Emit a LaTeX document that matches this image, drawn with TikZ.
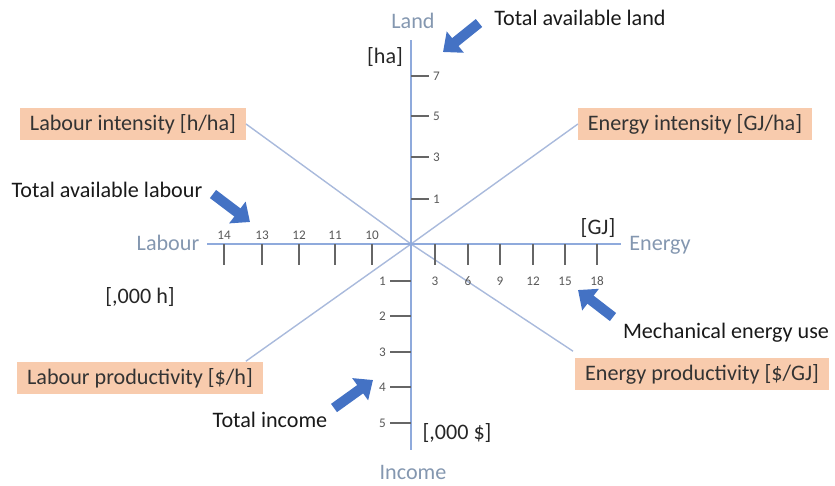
\documentclass[tikz,border=0pt]{standalone}
\usepackage{fontspec}
\setmainfont{Carlito}
\usetikzlibrary{positioning}
\usetikzlibrary{arrows.meta,calc}
\definecolor{axisblue}{HTML}{8FAADC}
\definecolor{diagblue}{HTML}{A9BADC}
\definecolor{axistext}{HTML}{8497B0}
\definecolor{boxfill}{HTML}{F8CBAD}
\definecolor{arrowblue}{HTML}{4472C4}
\definecolor{ticktext}{HTML}{595959}

\begin{document}
\begin{tikzpicture}[x=0.02cm,y=-0.02cm,
 axis/.style={axisblue,line width=1.1pt},
 diag/.style={diagblue,line width=0.8pt},
 tickmark/.style={black!60,line width=0.8pt},
 ticklabel/.style={ticktext,font=\fontsize{7.5}{9}\selectfont,inner sep=1pt},
 axislabel/.style={axistext,font=\fontsize{12.6}{15}\selectfont},
 unitlabel/.style={black!85,font=\fontsize{12.6}{15}\selectfont},
 ratiobox/.style={fill=boxfill,text=black!80,font=\fontsize{12.6}{15}\selectfont,
   minimum height=18.7pt,inner xsep=5.5pt},
 note/.style={black!90,font=\fontsize{12.6}{15}\selectfont},
 blockarrow/.style={arrowblue,line width=5.8pt,-{Triangle[width=15pt,length=9pt]}}]
 \useasboundingbox (0,0) rectangle (835,485);
 % axes
 \coordinate (O) at (411,244);
 \coordinate (ytop) at (411,40);
 \coordinate (ybot) at (411,450);
 \coordinate (xleft) at (207,244);
 \coordinate (xright) at (621,244);
 \node[axislabel] (land) at (413,21) {Land};
 \node[axislabel] (income) at (413,472) {Income};
 \node[axislabel] (labour) at (168,243) {Labour};
 \node[axislabel] (energy) at (660,245) {Energy};
 % ratio boxes
 \node[ratiobox] (li) at (133,124) {Labour intensity [h/ha]};
 \node[ratiobox] (ei) at (695,124) {Energy intensity [GJ/ha]};
 \node[ratiobox] (lp) at (140,378) {Labour productivity [\$/h]};
 \node[ratiobox] (ep) at (702,374) {Energy productivity [\$/GJ]};
 \draw[diag] (O) -- (li.east);
 \draw[diag] (O) -- (ei.west);
 \draw[diag] (O) -- ($(lp.north east)+(-17,0)$);
 \draw[diag] (O) -- ($(ep.north west)+(-2,-6)$);
 \draw[axis] (ytop) -- (ybot);
 \draw[axis] (xleft) -- (xright);
 % ticks
 \foreach \v/\y in {7/76,5/116,3/157,1/199}{
   \draw[tickmark] (411,\y) -- (429,\y);
   \node[ticklabel,right] (land\v) at (431,\y) {\v};
 }
 \foreach \v/\y in {1/281,2/316,3/352,4/387,5/423}{
   \draw[tickmark] (390,\y) -- (411,\y);
   \node[ticklabel,left] (inc\v) at (388,\y) {\v};
 }
 \foreach \v/\x in {14/224,13/262,12/299,11/335,10/372}{
   \draw[tickmark] (\x,244) -- (\x,265);
   \node[ticklabel] (lab\v) at (\x,235) {\v};
 }
 \foreach \v/\x in {3/435,6/468,9/500,12/533,15/565,18/597}{
   \draw[tickmark] (\x,244) -- (\x,265);
   \node[ticklabel] (en\v) at (\x,281) {\v};
 }
 % units
 \node[unitlabel] (ha) at (385,57) {[ha]};
 \node[unitlabel] (gj) at (598,228) {[GJ]};
 \node[unitlabel] (kh) at (140,297) {[,000 h]};
 \node[unitlabel] (kd) at (457,433) {[,000 \$]};
 % notes and arrows
 \node[note] (tal) at (580,18) {Total available land};
 \node[note] (tlab) at (107,190) {Total available labour};
 \node[note] (meu) at (726,333) {Mechanical energy use};
 \node[note] (tinc) at (270,420) {Total income};
 \coordinate (a1s) at (479,23);  \coordinate (a1e) at (443,52);
 \coordinate (a2s) at (213,194); \coordinate (a2e) at (250,222);
 \coordinate (a3s) at (613,317); \coordinate (a3e) at (578,290);
 \coordinate (a4s) at (334,408); \coordinate (a4e) at (373,380);
 \draw[blockarrow] (a1s) -- (a1e);
 \draw[blockarrow] (a2s) -- (a2e);
 \draw[blockarrow] (a3s) -- (a3e);
 \draw[blockarrow] (a4s) -- (a4e);
\end{tikzpicture}
\end{document}
